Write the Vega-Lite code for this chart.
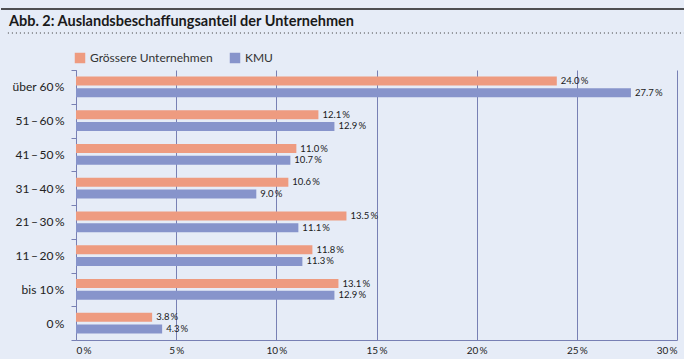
{
  "$schema": "https://vega.github.io/schema/vega-lite/v6.json",
  "background": "#E6ECF7",
  "padding": {"left": 0, "top": 8, "right": 0, "bottom": 4},
  "config": {
    "font": "Lato",
    "view": {"stroke": null},
    "axis": {"labelFont": "Lato", "labelColor": "#222222"},
    "legend": {"labelFont": "Lato"}
  },
  "spacing": 30,
  "vconcat": [
    {
      "width": 601,
      "height": 24,
      "data": {"values": [{"title": "Abb. 2: Auslandsbeschaffungsanteil der Unternehmen"}]},
      "layer": [
        {
          "mark": {"type": "rule", "color": "#1a1a1a", "strokeWidth": 1.5, "clip": false},
          "encoding": {
            "x": {"datum": -3.745, "type": "quantitative", "scale": {"domain": [0, 30]}, "axis": null},
            "x2": {"datum": 30.4},
            "y": {"datum": 1, "type": "quantitative", "scale": {"domain": [0, 1]}, "axis": null}
          }
        },
        {
          "mark": {"type": "rule", "color": "#333333", "strokeWidth": 1, "strokeDash": [1, 3], "clip": false},
          "encoding": {
            "x": {"datum": -3.4, "type": "quantitative"},
            "x2": {"datum": 30.4},
            "y": {"datum": 0, "type": "quantitative"}
          }
        },
        {
          "mark": {"type": "text", "align": "left", "baseline": "middle", "fontSize": 14.5, "fontWeight": "bold", "color": "#1a1a1a", "font": "Lato"},
          "encoding": {
            "x": {"datum": -3.35, "type": "quantitative"},
            "y": {"datum": 0.46, "type": "quantitative"},
            "text": {"field": "title"}
          }
        }
      ]
    },
    {
      "width": 601,
      "height": 270,
      "data": {
        "values": [
          {"category": "über 60\u2009%", "group": "Grössere Unternehmen", "value": 24.0, "label": "24.0\u2009%"},
          {"category": "über 60\u2009%", "group": "KMU", "value": 27.7, "label": "27.7\u2009%"},
          {"category": "51\u2009–\u200960\u2009%", "group": "Grössere Unternehmen", "value": 12.1, "label": "12.1\u2009%"},
          {"category": "51\u2009–\u200960\u2009%", "group": "KMU", "value": 12.9, "label": "12.9\u2009%"},
          {"category": "41\u2009–\u200950\u2009%", "group": "Grössere Unternehmen", "value": 11.0, "label": "11.0\u2009%"},
          {"category": "41\u2009–\u200950\u2009%", "group": "KMU", "value": 10.7, "label": "10.7\u2009%"},
          {"category": "31\u2009–\u200940\u2009%", "group": "Grössere Unternehmen", "value": 10.6, "label": "10.6\u2009%"},
          {"category": "31\u2009–\u200940\u2009%", "group": "KMU", "value": 9.0, "label": "9.0\u2009%"},
          {"category": "21\u2009–\u200930\u2009%", "group": "Grössere Unternehmen", "value": 13.5, "label": "13.5\u2009%"},
          {"category": "21\u2009–\u200930\u2009%", "group": "KMU", "value": 11.1, "label": "11.1\u2009%"},
          {"category": "11\u2009–\u200920\u2009%", "group": "Grössere Unternehmen", "value": 11.8, "label": "11.8\u2009%"},
          {"category": "11\u2009–\u200920\u2009%", "group": "KMU", "value": 11.3, "label": "11.3\u2009%"},
          {"category": "bis 10\u2009%", "group": "Grössere Unternehmen", "value": 13.1, "label": "13.1\u2009%"},
          {"category": "bis 10\u2009%", "group": "KMU", "value": 12.9, "label": "12.9\u2009%"},
          {"category": "0\u2009%", "group": "Grössere Unternehmen", "value": 3.8, "label": "3.8\u2009%"},
          {"category": "0\u2009%", "group": "KMU", "value": 4.3, "label": "4.3\u2009%"}
        ]
      },
      "encoding": {
        "y": {
          "field": "category",
          "type": "nominal",
          "sort": null,
          "scale": {"paddingInner": 0, "paddingOuter": 0},
          "axis": {
            "title": null,
            "tickBand": "extent",
            "domainColor": "#7880B4",
            "tickColor": "#7880B4",
            "tickSize": 5,
            "labelPadding": 7,
            "labelFontSize": 12,
            "grid": false
          }
        },
        "yOffset": {
          "field": "group",
          "type": "nominal",
          "scale": {"paddingInner": 0.23, "paddingOuter": 0.56}
        },
        "x": {
          "field": "value",
          "type": "quantitative",
          "scale": {"domain": [0, 30], "nice": false},
          "axis": {
            "title": null,
            "values": [0, 5, 10, 15, 20, 25, 30],
            "labelExpr": "datum.value + '\u2009%'",
            "ticks": false,
            "domainColor": "#7880B4",
            "gridColor": "#7880B4",
            "gridOpacity": 1,
            "labelPadding": 5,
            "labelFontSize": 10
          }
        }
      },
      "layer": [
        {
          "mark": {"type": "bar"},
          "encoding": {
            "color": {
              "field": "group",
              "type": "nominal",
              "scale": {"domain": ["Grössere Unternehmen", "KMU"], "range": ["#EE9B80", "#8794CB"]},
              "legend": {
                "title": null,
                "orient": "none",
                "legendX": -2,
                "legendY": 43,
                "direction": "horizontal",
                "symbolType": "square",
                "symbolSize": 110,
                "symbolStrokeWidth": 0,
                "labelFontSize": 12,
                "labelColor": "#333333",
                "labelOffset": 4,
                "columnPadding": 16,
                "padding": 0
              }
            }
          }
        },
        {
          "mark": {"type": "text", "align": "left", "baseline": "middle", "dx": 4, "fontSize": 9.5, "color": "#1a1a1a"},
          "encoding": {"text": {"field": "label"}}
        }
      ]
    }
  ]
}
